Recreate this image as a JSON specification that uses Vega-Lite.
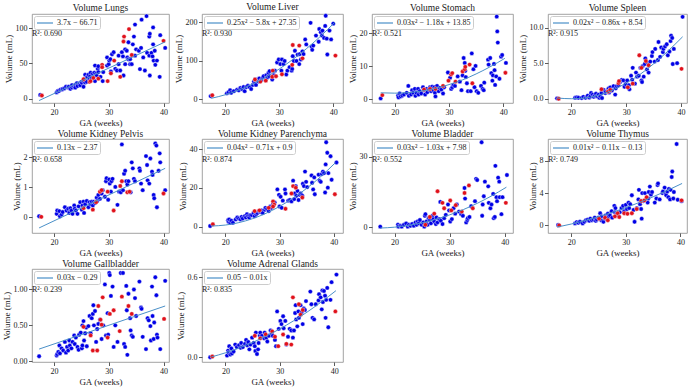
{
"$schema":"https://vega.github.io/schema/vega-lite/v6.json",
"padding":{"left":1,"right":1,"top":1,"bottom":0},
"background":"white",
"datasets":{
"lungs":[{"x":17.5,"y":5.5,"c":"b"},{"x":20.5,"y":9,"c":"b"},{"x":20.7,"y":11,"c":"b"},{"x":20.9,"y":11,"c":"b"},{"x":21.2,"y":13,"c":"b"},{"x":21.5,"y":13,"c":"b"},{"x":21.6,"y":14,"c":"b"},{"x":21.9,"y":14.7,"c":"b"},{"x":22.2,"y":17,"c":"b"},{"x":22.6,"y":16,"c":"b"},{"x":22.7,"y":17,"c":"b"},{"x":23.0,"y":14,"c":"b"},{"x":23.3,"y":16,"c":"b"},{"x":23.3,"y":19.4,"c":"b"},{"x":23.7,"y":17,"c":"b"},{"x":23.9,"y":20,"c":"b"},{"x":23.9,"y":15.7,"c":"b"},{"x":24.2,"y":22,"c":"b"},{"x":24.3,"y":18,"c":"b"},{"x":24.7,"y":21.7,"c":"b"},{"x":24.8,"y":19,"c":"b"},{"x":25.0,"y":24,"c":"b"},{"x":25.1,"y":22.6,"c":"b"},{"x":25.4,"y":25,"c":"b"},{"x":25.4,"y":17,"c":"b"},{"x":25.6,"y":27.6,"c":"b"},{"x":25.7,"y":34,"c":"b"},{"x":25.7,"y":23,"c":"b"},{"x":25.9,"y":29.5,"c":"b"},{"x":26.0,"y":24,"c":"b"},{"x":26.1,"y":31,"c":"b"},{"x":26.3,"y":34,"c":"b"},{"x":26.5,"y":27.6,"c":"b"},{"x":26.6,"y":32,"c":"b"},{"x":26.7,"y":37,"c":"b"},{"x":26.9,"y":29.5,"c":"b"},{"x":27.1,"y":35.5,"c":"b"},{"x":27.4,"y":37,"c":"b"},{"x":27.5,"y":25,"c":"b"},{"x":27.5,"y":47,"c":"b"},{"x":27.7,"y":35.5,"c":"b"},{"x":27.8,"y":33,"c":"b"},{"x":28.0,"y":42.4,"c":"b"},{"x":28.1,"y":46,"c":"b"},{"x":28.1,"y":37.8,"c":"b"},{"x":28.5,"y":31,"c":"b"},{"x":28.9,"y":25,"c":"b"},{"x":29.0,"y":37.8,"c":"b"},{"x":29.7,"y":58.5,"c":"b"},{"x":29.7,"y":47,"c":"b"},{"x":30.0,"y":49,"c":"b"},{"x":30.1,"y":54,"c":"b"},{"x":30.3,"y":56,"c":"b"},{"x":30.4,"y":38.7,"c":"b"},{"x":30.6,"y":63,"c":"b"},{"x":30.9,"y":66,"c":"b"},{"x":31.2,"y":42.4,"c":"b"},{"x":31.5,"y":40,"c":"b"},{"x":31.8,"y":61,"c":"b"},{"x":31.8,"y":49,"c":"b"},{"x":32.1,"y":40,"c":"b"},{"x":32.4,"y":66,"c":"b"},{"x":32.6,"y":60,"c":"b"},{"x":32.7,"y":33,"c":"b"},{"x":33.0,"y":49,"c":"b"},{"x":33.0,"y":70,"c":"b"},{"x":33.3,"y":68,"c":"b"},{"x":33.4,"y":58.5,"c":"b"},{"x":33.6,"y":80,"c":"b"},{"x":33.6,"y":56,"c":"b"},{"x":33.9,"y":56,"c":"b"},{"x":33.9,"y":49,"c":"b"},{"x":34.2,"y":49,"c":"b"},{"x":34.4,"y":77,"c":"b"},{"x":34.6,"y":88,"c":"b"},{"x":34.8,"y":105,"c":"b"},{"x":34.8,"y":61,"c":"b"},{"x":35.0,"y":70,"c":"b"},{"x":35.5,"y":68,"c":"b"},{"x":35.7,"y":42,"c":"b"},{"x":35.9,"y":72,"c":"b"},{"x":36.0,"y":112,"c":"b"},{"x":36.3,"y":58.5,"c":"b"},{"x":36.6,"y":40,"c":"b"},{"x":36.9,"y":117,"c":"b"},{"x":37.0,"y":65,"c":"b"},{"x":37.4,"y":88,"c":"b"},{"x":37.4,"y":61,"c":"b"},{"x":37.5,"y":92,"c":"b"},{"x":37.5,"y":33,"c":"b"},{"x":37.8,"y":65,"c":"b"},{"x":38.0,"y":60,"c":"b"},{"x":38.1,"y":101,"c":"b"},{"x":38.1,"y":77,"c":"b"},{"x":38.2,"y":54,"c":"b"},{"x":38.4,"y":68,"c":"b"},{"x":38.5,"y":48,"c":"b"},{"x":38.8,"y":54,"c":"b"},{"x":39.3,"y":31,"c":"b"},{"x":39.4,"y":90,"c":"b"},{"x":40.3,"y":72,"c":"b"},
{"x":17.8,"y":4.6,"c":"r"},{"x":25.4,"y":27.6,"c":"r"},{"x":26.5,"y":24,"c":"r"},{"x":26.7,"y":25,"c":"r"},{"x":27.2,"y":29.5,"c":"r"},{"x":28.1,"y":28.5,"c":"r"},{"x":28.8,"y":48,"c":"r"},{"x":28.8,"y":44.7,"c":"r"},{"x":29.8,"y":25,"c":"r"},{"x":30.4,"y":36,"c":"r"},{"x":31.0,"y":54,"c":"r"},{"x":32.1,"y":31,"c":"r"},{"x":32.7,"y":81,"c":"r"},{"x":32.8,"y":88,"c":"r"},{"x":33.7,"y":98.6,"c":"r"},{"x":34.2,"y":62,"c":"r"},{"x":40.0,"y":82,"c":"r"}],
"liver":[{"x":17.3,"y":8,"c":"b"},{"x":20.3,"y":15,"c":"b"},{"x":20.6,"y":18,"c":"b"},{"x":20.9,"y":23,"c":"b"},{"x":21.1,"y":16.5,"c":"b"},{"x":21.6,"y":20.7,"c":"b"},{"x":22.2,"y":24.8,"c":"b"},{"x":22.5,"y":23,"c":"b"},{"x":22.8,"y":29,"c":"b"},{"x":23.1,"y":26.4,"c":"b"},{"x":23.4,"y":31.4,"c":"b"},{"x":23.6,"y":20.7,"c":"b"},{"x":23.9,"y":31.4,"c":"b"},{"x":24.2,"y":34.7,"c":"b"},{"x":24.5,"y":31.4,"c":"b"},{"x":24.8,"y":26.4,"c":"b"},{"x":25.1,"y":37,"c":"b"},{"x":25.3,"y":45.5,"c":"b"},{"x":25.5,"y":41,"c":"b"},{"x":25.6,"y":51,"c":"b"},{"x":25.7,"y":37,"c":"b"},{"x":25.9,"y":48,"c":"b"},{"x":26.2,"y":45.5,"c":"b"},{"x":26.3,"y":54,"c":"b"},{"x":26.7,"y":49.6,"c":"b"},{"x":27.0,"y":56,"c":"b"},{"x":27.1,"y":59.5,"c":"b"},{"x":27.5,"y":49.6,"c":"b"},{"x":27.6,"y":62,"c":"b"},{"x":27.8,"y":56,"c":"b"},{"x":28.0,"y":68,"c":"b"},{"x":28.1,"y":59.5,"c":"b"},{"x":28.2,"y":72.7,"c":"b"},{"x":28.7,"y":51,"c":"b"},{"x":29.0,"y":62,"c":"b"},{"x":29.2,"y":74,"c":"b"},{"x":29.6,"y":95,"c":"b"},{"x":29.9,"y":103,"c":"b"},{"x":30.2,"y":91,"c":"b"},{"x":30.4,"y":74,"c":"b"},{"x":30.5,"y":103,"c":"b"},{"x":30.8,"y":91,"c":"b"},{"x":31.0,"y":99,"c":"b"},{"x":31.3,"y":64,"c":"b"},{"x":31.5,"y":74,"c":"b"},{"x":31.9,"y":83,"c":"b"},{"x":32.3,"y":74,"c":"b"},{"x":32.4,"y":78.5,"c":"b"},{"x":32.5,"y":111.6,"c":"b"},{"x":32.7,"y":99,"c":"b"},{"x":32.9,"y":125.6,"c":"b"},{"x":33.2,"y":99,"c":"b"},{"x":33.4,"y":115.7,"c":"b"},{"x":33.7,"y":91,"c":"b"},{"x":33.8,"y":117,"c":"b"},{"x":34.0,"y":103,"c":"b"},{"x":34.3,"y":124,"c":"b"},{"x":34.5,"y":117,"c":"b"},{"x":34.8,"y":155,"c":"b"},{"x":35.0,"y":142,"c":"b"},{"x":35.8,"y":198,"c":"b"},{"x":36.0,"y":136,"c":"b"},{"x":36.1,"y":128,"c":"b"},{"x":36.3,"y":139,"c":"b"},{"x":36.8,"y":165,"c":"b"},{"x":37.3,"y":149,"c":"b"},{"x":37.4,"y":182,"c":"b"},{"x":37.7,"y":173.6,"c":"b"},{"x":37.9,"y":165,"c":"b"},{"x":38.0,"y":178,"c":"b"},{"x":38.3,"y":159,"c":"b"},{"x":38.5,"y":190,"c":"b"},{"x":38.6,"y":216.5,"c":"b"},{"x":38.8,"y":157,"c":"b"},{"x":38.9,"y":116,"c":"b"},{"x":39.3,"y":178,"c":"b"},{"x":39.6,"y":155,"c":"b"},{"x":40.0,"y":196,"c":"b"},
{"x":17.6,"y":10,"c":"r"},{"x":25.5,"y":51,"c":"r"},{"x":26.5,"y":45.5,"c":"r"},{"x":27.5,"y":48,"c":"r"},{"x":28.8,"y":74,"c":"r"},{"x":28.7,"y":58,"c":"r"},{"x":29.4,"y":59.5,"c":"r"},{"x":30.5,"y":64.5,"c":"r"},{"x":32.4,"y":89,"c":"r"},{"x":32.5,"y":140.5,"c":"r"},{"x":33.7,"y":139,"c":"r"},{"x":34.3,"y":106,"c":"r"},{"x":40.4,"y":113,"c":"r"}],
"stomach":[{"x":17.4,"y":0.2,"c":"b"},{"x":20.6,"y":1.0,"c":"b"},{"x":20.7,"y":0.5,"c":"b"},{"x":20.9,"y":1.7,"c":"b"},{"x":21.1,"y":0.8,"c":"b"},{"x":21.4,"y":1.1,"c":"b"},{"x":21.7,"y":1.4,"c":"b"},{"x":22.2,"y":1.9,"c":"b"},{"x":22.5,"y":4.0,"c":"b"},{"x":22.6,"y":1.0,"c":"b"},{"x":23.0,"y":1.4,"c":"b"},{"x":23.2,"y":2.7,"c":"b"},{"x":23.4,"y":1.9,"c":"b"},{"x":23.7,"y":3.1,"c":"b"},{"x":23.8,"y":1.0,"c":"b"},{"x":24.0,"y":1.9,"c":"b"},{"x":24.3,"y":3.1,"c":"b"},{"x":24.4,"y":1.4,"c":"b"},{"x":24.6,"y":2.4,"c":"b"},{"x":24.9,"y":1.7,"c":"b"},{"x":25.2,"y":3.6,"c":"b"},{"x":25.4,"y":2.7,"c":"b"},{"x":25.6,"y":1.4,"c":"b"},{"x":25.9,"y":3.1,"c":"b"},{"x":26.0,"y":2.1,"c":"b"},{"x":26.3,"y":2.9,"c":"b"},{"x":26.5,"y":3.6,"c":"b"},{"x":26.7,"y":2.4,"c":"b"},{"x":26.9,"y":3.8,"c":"b"},{"x":27.1,"y":2.7,"c":"b"},{"x":27.3,"y":3.6,"c":"b"},{"x":27.4,"y":1.9,"c":"b"},{"x":27.5,"y":0.8,"c":"b"},{"x":27.8,"y":4.0,"c":"b"},{"x":27.9,"y":2.9,"c":"b"},{"x":28.1,"y":2.4,"c":"b"},{"x":28.3,"y":3.4,"c":"b"},{"x":28.6,"y":2.9,"c":"b"},{"x":28.9,"y":1.7,"c":"b"},{"x":29.1,"y":3.6,"c":"b"},{"x":29.8,"y":8.1,"c":"b"},{"x":30.2,"y":6.5,"c":"b"},{"x":30.4,"y":3.1,"c":"b"},{"x":30.6,"y":3.6,"c":"b"},{"x":30.8,"y":4.3,"c":"b"},{"x":31.1,"y":4.0,"c":"b"},{"x":31.6,"y":6.9,"c":"b"},{"x":32.0,"y":5.3,"c":"b"},{"x":32.3,"y":2.7,"c":"b"},{"x":32.5,"y":7.2,"c":"b"},{"x":32.7,"y":12.5,"c":"b"},{"x":32.9,"y":11.0,"c":"b"},{"x":33.0,"y":8.6,"c":"b"},{"x":33.1,"y":6.7,"c":"b"},{"x":33.3,"y":4.8,"c":"b"},{"x":33.5,"y":2.4,"c":"b"},{"x":34.0,"y":2.4,"c":"b"},{"x":34.2,"y":13.9,"c":"b"},{"x":34.5,"y":9.1,"c":"b"},{"x":34.7,"y":3.6,"c":"b"},{"x":34.9,"y":10.1,"c":"b"},{"x":35.1,"y":2.4,"c":"b"},{"x":35.4,"y":1.9,"c":"b"},{"x":35.9,"y":4.0,"c":"b"},{"x":36.2,"y":3.1,"c":"b"},{"x":36.4,"y":2.7,"c":"b"},{"x":36.5,"y":5.0,"c":"b"},{"x":37.2,"y":12.0,"c":"b"},{"x":37.3,"y":10.5,"c":"b"},{"x":37.6,"y":12.5,"c":"b"},{"x":37.8,"y":7.9,"c":"b"},{"x":38.0,"y":5.6,"c":"b"},{"x":38.1,"y":7.2,"c":"b"},{"x":38.3,"y":10.7,"c":"b"},{"x":38.4,"y":8.8,"c":"b"},{"x":38.5,"y":4.3,"c":"b"},{"x":38.7,"y":6.9,"c":"b"},{"x":38.8,"y":25.1,"c":"b"},{"x":38.9,"y":20.6,"c":"b"},{"x":39.0,"y":17.2,"c":"b"},{"x":39.3,"y":6.2,"c":"b"},{"x":39.6,"y":12.9,"c":"b"},{"x":39.8,"y":13.4,"c":"b"},{"x":40.5,"y":11.0,"c":"b"},
{"x":17.7,"y":1.2,"c":"r"},{"x":25.4,"y":2.9,"c":"r"},{"x":26.5,"y":3.1,"c":"r"},{"x":27.5,"y":3.1,"c":"r"},{"x":28.9,"y":4.0,"c":"r"},{"x":29.9,"y":5.6,"c":"r"},{"x":30.4,"y":7.5,"c":"r"},{"x":30.6,"y":7.9,"c":"r"},{"x":31.2,"y":5.3,"c":"r"},{"x":32.5,"y":8.4,"c":"r"},{"x":32.9,"y":9.1,"c":"r"},{"x":33.0,"y":9.8,"c":"r"},{"x":33.8,"y":10.5,"c":"r"},{"x":34.3,"y":4.8,"c":"r"},{"x":40.4,"y":8.0,"c":"r"}],
"spleen":[{"x":17.4,"y":0.05,"c":"b"},{"x":20.7,"y":0.13,"c":"b"},{"x":21.0,"y":0.2,"c":"b"},{"x":21.3,"y":0.13,"c":"b"},{"x":21.9,"y":0.1,"c":"b"},{"x":22.2,"y":0.27,"c":"b"},{"x":22.6,"y":0.13,"c":"b"},{"x":22.9,"y":0.27,"c":"b"},{"x":23.0,"y":0.44,"c":"b"},{"x":23.3,"y":0.18,"c":"b"},{"x":23.5,"y":0.35,"c":"b"},{"x":23.6,"y":0.8,"c":"b"},{"x":23.9,"y":0.58,"c":"b"},{"x":24.1,"y":0.27,"c":"b"},{"x":24.3,"y":0.44,"c":"b"},{"x":24.5,"y":0.7,"c":"b"},{"x":24.7,"y":0.35,"c":"b"},{"x":25.0,"y":0.58,"c":"b"},{"x":25.1,"y":0.13,"c":"b"},{"x":25.3,"y":0.35,"c":"b"},{"x":25.5,"y":0.8,"c":"b"},{"x":25.6,"y":0.1,"c":"b"},{"x":25.9,"y":1.24,"c":"b"},{"x":26.2,"y":0.8,"c":"b"},{"x":26.3,"y":1.0,"c":"b"},{"x":26.7,"y":1.15,"c":"b"},{"x":26.8,"y":1.46,"c":"b"},{"x":26.9,"y":0.88,"c":"b"},{"x":27.1,"y":1.6,"c":"b"},{"x":27.4,"y":1.15,"c":"b"},{"x":27.7,"y":1.77,"c":"b"},{"x":28.0,"y":0.58,"c":"b"},{"x":28.1,"y":1.46,"c":"b"},{"x":28.3,"y":1.77,"c":"b"},{"x":28.6,"y":1.9,"c":"b"},{"x":28.9,"y":2.35,"c":"b"},{"x":29.2,"y":2.65,"c":"b"},{"x":29.5,"y":2.57,"c":"b"},{"x":29.7,"y":1.68,"c":"b"},{"x":29.9,"y":2.04,"c":"b"},{"x":30.2,"y":2.57,"c":"b"},{"x":30.5,"y":1.9,"c":"b"},{"x":30.6,"y":1.33,"c":"b"},{"x":30.9,"y":3.23,"c":"b"},{"x":31.1,"y":2.65,"c":"b"},{"x":31.2,"y":4.34,"c":"b"},{"x":31.6,"y":2.12,"c":"b"},{"x":31.8,"y":3.67,"c":"b"},{"x":32.0,"y":3.1,"c":"b"},{"x":32.3,"y":3.23,"c":"b"},{"x":32.6,"y":4.34,"c":"b"},{"x":32.8,"y":2.57,"c":"b"},{"x":32.9,"y":2.35,"c":"b"},{"x":33.0,"y":4.56,"c":"b"},{"x":33.2,"y":3.1,"c":"b"},{"x":33.4,"y":4.87,"c":"b"},{"x":33.5,"y":5.66,"c":"b"},{"x":33.8,"y":4.12,"c":"b"},{"x":34.0,"y":5.0,"c":"b"},{"x":34.1,"y":3.67,"c":"b"},{"x":34.4,"y":5.22,"c":"b"},{"x":34.7,"y":6.0,"c":"b"},{"x":34.8,"y":6.55,"c":"b"},{"x":35.2,"y":5.22,"c":"b"},{"x":35.3,"y":7.0,"c":"b"},{"x":35.8,"y":5.44,"c":"b"},{"x":35.9,"y":7.97,"c":"b"},{"x":36.2,"y":5.88,"c":"b"},{"x":36.4,"y":7.2,"c":"b"},{"x":36.7,"y":6.55,"c":"b"},{"x":36.8,"y":7.0,"c":"b"},{"x":37.1,"y":7.35,"c":"b"},{"x":37.4,"y":7.65,"c":"b"},{"x":37.6,"y":6.1,"c":"b"},{"x":37.9,"y":6.64,"c":"b"},{"x":38.1,"y":8.1,"c":"b"},{"x":38.2,"y":8.85,"c":"b"},{"x":38.4,"y":8.54,"c":"b"},{"x":38.5,"y":4.87,"c":"b"},{"x":38.7,"y":7.0,"c":"b"},{"x":39.3,"y":5.0,"c":"b"},{"x":40.3,"y":11.5,"c":"b"},
{"x":17.7,"y":0.0,"c":"r"},{"x":25.5,"y":1.33,"c":"r"},{"x":26.7,"y":1.0,"c":"r"},{"x":27.1,"y":1.24,"c":"r"},{"x":28.6,"y":2.2,"c":"r"},{"x":28.7,"y":2.48,"c":"r"},{"x":30.3,"y":1.6,"c":"r"},{"x":31.2,"y":2.12,"c":"r"},{"x":32.4,"y":6.1,"c":"r"},{"x":32.8,"y":4.34,"c":"r"},{"x":33.6,"y":5.3,"c":"r"},{"x":34.1,"y":4.7,"c":"r"},{"x":40.1,"y":4.2,"c":"r"}],
"pelvis":[{"x":17.3,"y":0.03,"c":"b"},{"x":20.5,"y":0.11,"c":"b"},{"x":20.6,"y":0.22,"c":"b"},{"x":21.0,"y":0.2,"c":"b"},{"x":21.1,"y":0.03,"c":"b"},{"x":21.4,"y":0.09,"c":"b"},{"x":21.6,"y":0.17,"c":"b"},{"x":22.0,"y":0.33,"c":"b"},{"x":22.3,"y":0.22,"c":"b"},{"x":22.6,"y":0.28,"c":"b"},{"x":22.8,"y":0.14,"c":"b"},{"x":23.0,"y":0.3,"c":"b"},{"x":23.2,"y":0.22,"c":"b"},{"x":23.4,"y":0.11,"c":"b"},{"x":23.7,"y":0.39,"c":"b"},{"x":23.8,"y":0.28,"c":"b"},{"x":24.0,"y":0.22,"c":"b"},{"x":24.3,"y":0.11,"c":"b"},{"x":24.5,"y":0.36,"c":"b"},{"x":24.8,"y":0.5,"c":"b"},{"x":25.1,"y":0.25,"c":"b"},{"x":25.2,"y":0.39,"c":"b"},{"x":25.4,"y":0.52,"c":"b"},{"x":25.5,"y":0.14,"c":"b"},{"x":25.7,"y":0.43,"c":"b"},{"x":26.0,"y":0.54,"c":"b"},{"x":26.3,"y":0.33,"c":"b"},{"x":26.5,"y":0.5,"c":"b"},{"x":26.7,"y":0.43,"c":"b"},{"x":26.9,"y":0.52,"c":"b"},{"x":27.1,"y":0.39,"c":"b"},{"x":27.3,"y":0.52,"c":"b"},{"x":27.5,"y":0.47,"c":"b"},{"x":27.8,"y":0.65,"c":"b"},{"x":27.9,"y":0.54,"c":"b"},{"x":28.1,"y":0.74,"c":"b"},{"x":28.4,"y":0.61,"c":"b"},{"x":28.7,"y":0.79,"c":"b"},{"x":28.9,"y":0.9,"c":"b"},{"x":29.3,"y":0.68,"c":"b"},{"x":29.5,"y":1.2,"c":"b"},{"x":29.6,"y":1.3,"c":"b"},{"x":29.9,"y":0.58,"c":"b"},{"x":30.1,"y":1.26,"c":"b"},{"x":30.2,"y":1.12,"c":"b"},{"x":30.4,"y":0.85,"c":"b"},{"x":30.5,"y":1.2,"c":"b"},{"x":30.7,"y":1.28,"c":"b"},{"x":31.2,"y":1.01,"c":"b"},{"x":31.6,"y":0.41,"c":"b"},{"x":31.9,"y":0.85,"c":"b"},{"x":32.2,"y":0.83,"c":"b"},{"x":32.4,"y":2.43,"c":"b"},{"x":32.6,"y":0.9,"c":"b"},{"x":32.8,"y":1.45,"c":"b"},{"x":33.0,"y":1.55,"c":"b"},{"x":33.2,"y":1.2,"c":"b"},{"x":33.4,"y":1.09,"c":"b"},{"x":33.6,"y":1.2,"c":"b"},{"x":34.0,"y":0.83,"c":"b"},{"x":34.2,"y":1.83,"c":"b"},{"x":34.4,"y":1.63,"c":"b"},{"x":34.6,"y":1.28,"c":"b"},{"x":34.8,"y":1.2,"c":"b"},{"x":35.6,"y":1.63,"c":"b"},{"x":35.7,"y":1.55,"c":"b"},{"x":35.9,"y":1.12,"c":"b"},{"x":36.2,"y":0.9,"c":"b"},{"x":36.8,"y":2.04,"c":"b"},{"x":37.0,"y":1.74,"c":"b"},{"x":37.1,"y":1.23,"c":"b"},{"x":37.4,"y":1.12,"c":"b"},{"x":37.6,"y":1.96,"c":"b"},{"x":37.9,"y":1.52,"c":"b"},{"x":38.0,"y":1.41,"c":"b"},{"x":38.2,"y":0.74,"c":"b"},{"x":38.3,"y":0.63,"c":"b"},{"x":38.5,"y":2.46,"c":"b"},{"x":38.7,"y":2.39,"c":"b"},{"x":38.8,"y":0.33,"c":"b"},{"x":39.1,"y":1.55,"c":"b"},{"x":39.3,"y":2.13,"c":"b"},{"x":39.4,"y":1.83,"c":"b"},{"x":40.3,"y":0.9,"c":"b"},
{"x":17.7,"y":0.01,"c":"r"},{"x":25.4,"y":0.3,"c":"r"},{"x":27.1,"y":0.25,"c":"r"},{"x":27.7,"y":0.5,"c":"r"},{"x":28.4,"y":0.85,"c":"r"},{"x":28.7,"y":0.9,"c":"r"},{"x":29.8,"y":0.85,"c":"r"},{"x":30.9,"y":0.22,"c":"r"},{"x":32.1,"y":1.04,"c":"r"},{"x":32.4,"y":1.2,"c":"r"},{"x":33.4,"y":0.83,"c":"r"},{"x":33.8,"y":0.85,"c":"r"},{"x":40.0,"y":0.79,"c":"r"}],
"parench":[{"x":17.2,"y":0.3,"c":"b"},{"x":20.5,"y":3.3,"c":"b"},{"x":20.6,"y":2.5,"c":"b"},{"x":20.7,"y":3.7,"c":"b"},{"x":20.9,"y":2.0,"c":"b"},{"x":21.1,"y":3.0,"c":"b"},{"x":21.4,"y":2.0,"c":"b"},{"x":21.9,"y":3.7,"c":"b"},{"x":22.2,"y":4.7,"c":"b"},{"x":22.5,"y":4.2,"c":"b"},{"x":22.8,"y":3.7,"c":"b"},{"x":23.0,"y":5.0,"c":"b"},{"x":23.2,"y":4.2,"c":"b"},{"x":23.6,"y":5.4,"c":"b"},{"x":23.8,"y":4.7,"c":"b"},{"x":24.0,"y":6.4,"c":"b"},{"x":24.2,"y":5.4,"c":"b"},{"x":24.4,"y":4.7,"c":"b"},{"x":24.6,"y":5.9,"c":"b"},{"x":24.9,"y":5.9,"c":"b"},{"x":25.2,"y":7.0,"c":"b"},{"x":25.4,"y":5.4,"c":"b"},{"x":25.7,"y":6.4,"c":"b"},{"x":25.9,"y":7.0,"c":"b"},{"x":26.2,"y":8.0,"c":"b"},{"x":26.5,"y":7.5,"c":"b"},{"x":26.7,"y":8.4,"c":"b"},{"x":26.9,"y":7.0,"c":"b"},{"x":27.3,"y":8.7,"c":"b"},{"x":27.4,"y":9.7,"c":"b"},{"x":27.7,"y":9.2,"c":"b"},{"x":28.0,"y":8.0,"c":"b"},{"x":28.3,"y":10.4,"c":"b"},{"x":28.5,"y":9.7,"c":"b"},{"x":28.8,"y":11.7,"c":"b"},{"x":29.1,"y":12.5,"c":"b"},{"x":29.6,"y":19.2,"c":"b"},{"x":29.9,"y":16.4,"c":"b"},{"x":30.0,"y":10.4,"c":"b"},{"x":30.2,"y":15.4,"c":"b"},{"x":30.4,"y":9.7,"c":"b"},{"x":30.6,"y":13.4,"c":"b"},{"x":31.0,"y":19.2,"c":"b"},{"x":31.1,"y":17.1,"c":"b"},{"x":31.6,"y":13.4,"c":"b"},{"x":31.9,"y":13.7,"c":"b"},{"x":32.2,"y":13.0,"c":"b"},{"x":32.5,"y":23.7,"c":"b"},{"x":32.7,"y":14.2,"c":"b"},{"x":32.8,"y":17.1,"c":"b"},{"x":33.0,"y":20.9,"c":"b"},{"x":33.1,"y":15.9,"c":"b"},{"x":33.3,"y":18.4,"c":"b"},{"x":33.5,"y":13.7,"c":"b"},{"x":33.7,"y":16.4,"c":"b"},{"x":33.9,"y":17.1,"c":"b"},{"x":34.2,"y":15.9,"c":"b"},{"x":34.3,"y":22.1,"c":"b"},{"x":34.5,"y":20.9,"c":"b"},{"x":34.7,"y":28.4,"c":"b"},{"x":34.9,"y":23.1,"c":"b"},{"x":35.1,"y":20.4,"c":"b"},{"x":35.9,"y":26.4,"c":"b"},{"x":36.0,"y":22.6,"c":"b"},{"x":36.2,"y":19.2,"c":"b"},{"x":36.4,"y":25.4,"c":"b"},{"x":36.5,"y":16.7,"c":"b"},{"x":37.2,"y":26.8,"c":"b"},{"x":37.4,"y":23.7,"c":"b"},{"x":37.6,"y":23.1,"c":"b"},{"x":37.8,"y":27.1,"c":"b"},{"x":38.0,"y":28.4,"c":"b"},{"x":38.2,"y":27.6,"c":"b"},{"x":38.4,"y":17.6,"c":"b"},{"x":38.5,"y":32.1,"c":"b"},{"x":38.6,"y":43.5,"c":"b"},{"x":38.8,"y":38.1,"c":"b"},{"x":38.9,"y":20.1,"c":"b"},{"x":39.0,"y":27.6,"c":"b"},{"x":39.4,"y":36.3,"c":"b"},{"x":39.6,"y":24.2,"c":"b"},{"x":40.5,"y":33.1,"c":"b"},
{"x":17.7,"y":1.2,"c":"r"},{"x":25.4,"y":8.0,"c":"r"},{"x":26.3,"y":8.4,"c":"r"},{"x":28.0,"y":9.7,"c":"r"},{"x":28.8,"y":13.0,"c":"r"},{"x":29.0,"y":11.4,"c":"r"},{"x":28.8,"y":10.4,"c":"r"},{"x":31.1,"y":9.2,"c":"r"},{"x":32.2,"y":17.1,"c":"r"},{"x":32.5,"y":20.9,"c":"r"},{"x":33.0,"y":20.1,"c":"r"},{"x":34.2,"y":15.0,"c":"r"},{"x":40.2,"y":16.7,"c":"r"}],
"bladder":[{"x":17.4,"y":0.3,"c":"b"},{"x":20.6,"y":1.1,"c":"b"},{"x":20.7,"y":0.3,"c":"b"},{"x":21.1,"y":0.7,"c":"b"},{"x":21.3,"y":0.3,"c":"b"},{"x":21.7,"y":1.1,"c":"b"},{"x":22.1,"y":1.7,"c":"b"},{"x":22.4,"y":0.3,"c":"b"},{"x":22.6,"y":1.1,"c":"b"},{"x":22.9,"y":0.7,"c":"b"},{"x":23.2,"y":1.4,"c":"b"},{"x":23.5,"y":0.7,"c":"b"},{"x":23.8,"y":2.1,"c":"b"},{"x":24.0,"y":1.1,"c":"b"},{"x":24.2,"y":2.5,"c":"b"},{"x":24.4,"y":1.7,"c":"b"},{"x":24.6,"y":3.1,"c":"b"},{"x":24.9,"y":1.1,"c":"b"},{"x":25.2,"y":2.1,"c":"b"},{"x":25.4,"y":0.3,"c":"b"},{"x":25.5,"y":4.9,"c":"b"},{"x":25.6,"y":5.6,"c":"b"},{"x":25.8,"y":2.5,"c":"b"},{"x":26.0,"y":1.1,"c":"b"},{"x":26.2,"y":3.9,"c":"b"},{"x":26.4,"y":3.1,"c":"b"},{"x":26.6,"y":1.7,"c":"b"},{"x":26.9,"y":4.9,"c":"b"},{"x":27.0,"y":3.5,"c":"b"},{"x":27.2,"y":2.5,"c":"b"},{"x":27.5,"y":1.4,"c":"b"},{"x":27.6,"y":4.2,"c":"b"},{"x":27.8,"y":2.1,"c":"b"},{"x":28.1,"y":3.5,"c":"b"},{"x":28.3,"y":10.8,"c":"b"},{"x":28.4,"y":2.8,"c":"b"},{"x":28.7,"y":1.4,"c":"b"},{"x":29.0,"y":3.9,"c":"b"},{"x":29.3,"y":5.3,"c":"b"},{"x":29.7,"y":9.7,"c":"b"},{"x":29.9,"y":7.2,"c":"b"},{"x":30.1,"y":2.5,"c":"b"},{"x":30.4,"y":3.5,"c":"b"},{"x":30.7,"y":8.1,"c":"b"},{"x":31.0,"y":5.8,"c":"b"},{"x":31.3,"y":9.7,"c":"b"},{"x":31.7,"y":6.7,"c":"b"},{"x":32.1,"y":5.6,"c":"b"},{"x":32.4,"y":4.9,"c":"b"},{"x":32.7,"y":16.7,"c":"b"},{"x":32.8,"y":12.2,"c":"b"},{"x":33.0,"y":2.1,"c":"b"},{"x":33.2,"y":3.1,"c":"b"},{"x":33.3,"y":3.9,"c":"b"},{"x":33.6,"y":4.4,"c":"b"},{"x":33.9,"y":9.0,"c":"b"},{"x":34.6,"y":11.1,"c":"b"},{"x":34.8,"y":20.6,"c":"b"},{"x":35.0,"y":20.1,"c":"b"},{"x":35.8,"y":36.1,"c":"b"},{"x":35.9,"y":4.9,"c":"b"},{"x":36.0,"y":9.7,"c":"b"},{"x":36.2,"y":13.2,"c":"b"},{"x":36.4,"y":19.4,"c":"b"},{"x":37.0,"y":17.4,"c":"b"},{"x":37.1,"y":10.4,"c":"b"},{"x":37.4,"y":8.1,"c":"b"},{"x":37.6,"y":9.7,"c":"b"},{"x":37.9,"y":14.2,"c":"b"},{"x":38.0,"y":3.9,"c":"b"},{"x":38.2,"y":4.4,"c":"b"},{"x":38.3,"y":26.1,"c":"b"},{"x":38.5,"y":12.8,"c":"b"},{"x":38.6,"y":11.1,"c":"b"},{"x":38.8,"y":21.1,"c":"b"},{"x":39.0,"y":19.4,"c":"b"},{"x":39.1,"y":12.8,"c":"b"},{"x":39.4,"y":5.6,"c":"b"},{"x":39.6,"y":12.8,"c":"b"},{"x":40.4,"y":22.2,"c":"b"},
{"x":25.6,"y":1.1,"c":"r"},{"x":26.4,"y":4.4,"c":"r"},{"x":27.2,"y":5.8,"c":"r"},{"x":27.8,"y":15.3,"c":"r"},{"x":28.7,"y":10.4,"c":"r"},{"x":29.0,"y":8.1,"c":"r"},{"x":30.1,"y":11.4,"c":"r"},{"x":30.3,"y":7.2,"c":"r"},{"x":31.1,"y":9.4,"c":"r"},{"x":32.2,"y":6.7,"c":"r"},{"x":32.7,"y":14.6,"c":"r"},{"x":33.5,"y":17.8,"c":"r"},{"x":34.2,"y":8.1,"c":"r"},{"x":40.2,"y":10.4,"c":"r"}],
"thymus":[{"x":17.6,"y":0.04,"c":"b"},{"x":20.7,"y":0.24,"c":"b"},{"x":21.0,"y":0.4,"c":"b"},{"x":21.3,"y":0.32,"c":"b"},{"x":21.6,"y":0.44,"c":"b"},{"x":22.1,"y":0.24,"c":"b"},{"x":22.4,"y":0.44,"c":"b"},{"x":22.7,"y":0.63,"c":"b"},{"x":23.0,"y":0.71,"c":"b"},{"x":23.3,"y":0.56,"c":"b"},{"x":23.5,"y":0.83,"c":"b"},{"x":23.8,"y":0.63,"c":"b"},{"x":24.1,"y":0.71,"c":"b"},{"x":24.3,"y":0.95,"c":"b"},{"x":24.5,"y":0.56,"c":"b"},{"x":24.7,"y":0.71,"c":"b"},{"x":25.0,"y":0.95,"c":"b"},{"x":25.3,"y":1.5,"c":"b"},{"x":25.5,"y":0.63,"c":"b"},{"x":25.6,"y":1.11,"c":"b"},{"x":25.9,"y":0.44,"c":"b"},{"x":26.2,"y":0.83,"c":"b"},{"x":26.3,"y":1.23,"c":"b"},{"x":26.7,"y":1.43,"c":"b"},{"x":26.8,"y":1.03,"c":"b"},{"x":27.1,"y":1.23,"c":"b"},{"x":27.4,"y":1.75,"c":"b"},{"x":27.5,"y":0.95,"c":"b"},{"x":27.9,"y":2.42,"c":"b"},{"x":28.0,"y":1.63,"c":"b"},{"x":28.1,"y":2.14,"c":"b"},{"x":28.3,"y":1.43,"c":"b"},{"x":28.6,"y":1.23,"c":"b"},{"x":28.9,"y":1.63,"c":"b"},{"x":29.2,"y":2.14,"c":"b"},{"x":29.5,"y":2.42,"c":"b"},{"x":29.7,"y":1.75,"c":"b"},{"x":30.0,"y":2.54,"c":"b"},{"x":30.2,"y":2.02,"c":"b"},{"x":30.5,"y":2.82,"c":"b"},{"x":30.6,"y":2.14,"c":"b"},{"x":30.8,"y":2.62,"c":"b"},{"x":31.1,"y":3.73,"c":"b"},{"x":31.4,"y":1.9,"c":"b"},{"x":31.6,"y":0.44,"c":"b"},{"x":32.0,"y":2.14,"c":"b"},{"x":32.3,"y":3.21,"c":"b"},{"x":32.4,"y":4.4,"c":"b"},{"x":32.6,"y":2.62,"c":"b"},{"x":32.8,"y":2.02,"c":"b"},{"x":32.9,"y":0.83,"c":"b"},{"x":33.0,"y":4.0,"c":"b"},{"x":33.2,"y":3.02,"c":"b"},{"x":33.5,"y":4.0,"c":"b"},{"x":34.0,"y":2.82,"c":"b"},{"x":34.1,"y":3.33,"c":"b"},{"x":34.2,"y":4.13,"c":"b"},{"x":34.4,"y":4.8,"c":"b"},{"x":34.6,"y":3.81,"c":"b"},{"x":34.8,"y":4.13,"c":"b"},{"x":35.3,"y":2.82,"c":"b"},{"x":35.6,"y":3.33,"c":"b"},{"x":35.8,"y":5.0,"c":"b"},{"x":35.9,"y":5.2,"c":"b"},{"x":36.2,"y":3.21,"c":"b"},{"x":36.7,"y":4.0,"c":"b"},{"x":36.8,"y":4.2,"c":"b"},{"x":37.1,"y":4.68,"c":"b"},{"x":37.3,"y":3.89,"c":"b"},{"x":37.4,"y":3.73,"c":"b"},{"x":37.6,"y":4.2,"c":"b"},{"x":37.8,"y":3.49,"c":"b"},{"x":37.9,"y":4.52,"c":"b"},{"x":38.1,"y":3.21,"c":"b"},{"x":38.2,"y":4.4,"c":"b"},{"x":38.4,"y":5.99,"c":"b"},{"x":38.5,"y":6.67,"c":"b"},{"x":38.7,"y":3.33,"c":"b"},{"x":38.8,"y":4.13,"c":"b"},{"x":39.3,"y":10.08,"c":"b"},{"x":39.5,"y":3.17,"c":"b"},{"x":40.2,"y":3.0,"c":"b"},
{"x":17.8,"y":0.0,"c":"r"},{"x":25.1,"y":0.83,"c":"r"},{"x":26.2,"y":0.95,"c":"r"},{"x":26.7,"y":0.63,"c":"r"},{"x":28.0,"y":1.11,"c":"r"},{"x":28.5,"y":1.5,"c":"r"},{"x":28.8,"y":1.03,"c":"r"},{"x":29.7,"y":1.5,"c":"r"},{"x":30.3,"y":1.43,"c":"r"},{"x":31.1,"y":1.5,"c":"r"},{"x":32.0,"y":2.02,"c":"r"},{"x":32.8,"y":3.02,"c":"r"},{"x":33.4,"y":3.1,"c":"r"},{"x":33.8,"y":3.49,"c":"r"},{"x":40.2,"y":3.1,"c":"r"}],
"gall":[{"x":17.3,"y":0.07,"c":"b"},{"x":20.5,"y":0.08,"c":"b"},{"x":20.6,"y":0.1,"c":"b"},{"x":20.8,"y":0.13,"c":"b"},{"x":21.0,"y":0.22,"c":"b"},{"x":21.1,"y":0.11,"c":"b"},{"x":21.4,"y":0.18,"c":"b"},{"x":21.7,"y":0.15,"c":"b"},{"x":22.0,"y":0.27,"c":"b"},{"x":22.2,"y":0.12,"c":"b"},{"x":22.4,"y":0.2,"c":"b"},{"x":22.6,"y":0.15,"c":"b"},{"x":22.8,"y":0.29,"c":"b"},{"x":22.9,"y":0.22,"c":"b"},{"x":23.2,"y":0.18,"c":"b"},{"x":23.4,"y":0.27,"c":"b"},{"x":23.7,"y":0.36,"c":"b"},{"x":23.8,"y":0.24,"c":"b"},{"x":24.0,"y":0.33,"c":"b"},{"x":24.3,"y":0.2,"c":"b"},{"x":24.5,"y":0.16,"c":"b"},{"x":24.6,"y":0.37,"c":"b"},{"x":24.9,"y":0.4,"c":"b"},{"x":25.1,"y":0.18,"c":"b"},{"x":25.2,"y":0.22,"c":"b"},{"x":25.2,"y":0.5,"c":"b"},{"x":25.4,"y":0.56,"c":"b"},{"x":25.5,"y":0.29,"c":"b"},{"x":25.7,"y":0.39,"c":"b"},{"x":25.9,"y":0.47,"c":"b"},{"x":26.0,"y":0.21,"c":"b"},{"x":26.3,"y":0.49,"c":"b"},{"x":26.5,"y":0.63,"c":"b"},{"x":26.7,"y":0.39,"c":"b"},{"x":26.9,"y":0.6,"c":"b"},{"x":27.1,"y":0.66,"c":"b"},{"x":27.2,"y":0.78,"c":"b"},{"x":27.3,"y":0.5,"c":"b"},{"x":27.5,"y":0.7,"c":"b"},{"x":27.7,"y":0.27,"c":"b"},{"x":27.9,"y":0.45,"c":"b"},{"x":28.1,"y":0.52,"c":"b"},{"x":28.4,"y":0.58,"c":"b"},{"x":28.7,"y":0.31,"c":"b"},{"x":29.0,"y":0.5,"c":"b"},{"x":29.3,"y":1.07,"c":"b"},{"x":29.5,"y":0.36,"c":"b"},{"x":29.8,"y":0.67,"c":"b"},{"x":29.9,"y":0.37,"c":"b"},{"x":30.1,"y":1.23,"c":"b"},{"x":30.2,"y":1.2,"c":"b"},{"x":30.4,"y":0.91,"c":"b"},{"x":30.7,"y":1.04,"c":"b"},{"x":30.9,"y":0.2,"c":"b"},{"x":31.2,"y":0.5,"c":"b"},{"x":31.6,"y":0.27,"c":"b"},{"x":32.2,"y":1.23,"c":"b"},{"x":32.6,"y":1.23,"c":"b"},{"x":32.8,"y":0.24,"c":"b"},{"x":33.0,"y":0.2,"c":"b"},{"x":33.2,"y":1.05,"c":"b"},{"x":33.3,"y":0.71,"c":"b"},{"x":33.4,"y":0.09,"c":"b"},{"x":33.6,"y":0.94,"c":"b"},{"x":33.9,"y":0.6,"c":"b"},{"x":34.0,"y":0.43,"c":"b"},{"x":34.2,"y":0.36,"c":"b"},{"x":34.4,"y":0.34,"c":"b"},{"x":34.6,"y":1.0,"c":"b"},{"x":34.8,"y":0.88,"c":"b"},{"x":35.0,"y":0.63,"c":"b"},{"x":35.6,"y":1.11,"c":"b"},{"x":35.9,"y":0.75,"c":"b"},{"x":36.0,"y":0.73,"c":"b"},{"x":36.2,"y":0.34,"c":"b"},{"x":36.8,"y":0.17,"c":"b"},{"x":37.1,"y":0.6,"c":"b"},{"x":37.3,"y":0.57,"c":"b"},{"x":37.6,"y":0.49,"c":"b"},{"x":37.7,"y":0.29,"c":"b"},{"x":37.9,"y":1.04,"c":"b"},{"x":38.0,"y":0.63,"c":"b"},{"x":38.2,"y":0.31,"c":"b"},{"x":38.3,"y":0.54,"c":"b"},{"x":38.5,"y":1.17,"c":"b"},{"x":38.7,"y":0.92,"c":"b"},{"x":38.8,"y":0.37,"c":"b"},{"x":38.9,"y":0.33,"c":"b"},{"x":39.4,"y":0.17,"c":"b"},{"x":40.3,"y":1.12,"c":"b"},
{"x":25.4,"y":0.48,"c":"r"},{"x":26.7,"y":0.36,"c":"r"},{"x":27.1,"y":0.15,"c":"r"},{"x":27.9,"y":0.15,"c":"r"},{"x":28.1,"y":0.77,"c":"r"},{"x":28.5,"y":0.58,"c":"r"},{"x":28.7,"y":0.51,"c":"r"},{"x":28.9,"y":0.89,"c":"r"},{"x":29.8,"y":0.33,"c":"r"},{"x":30.2,"y":0.66,"c":"r"},{"x":30.9,"y":0.71,"c":"r"},{"x":32.0,"y":0.42,"c":"r"},{"x":32.4,"y":0.9,"c":"r"},{"x":33.6,"y":0.77,"c":"r"},{"x":34.2,"y":0.66,"c":"r"},{"x":40.1,"y":0.59,"c":"r"}],
"adrenal":[{"x":17.2,"y":0.0,"c":"b"},{"x":20.3,"y":0.012,"c":"b"},{"x":20.5,"y":0.05,"c":"b"},{"x":20.6,"y":0.036,"c":"b"},{"x":20.7,"y":0.083,"c":"b"},{"x":20.9,"y":0.02,"c":"b"},{"x":21.1,"y":0.066,"c":"b"},{"x":21.2,"y":0.028,"c":"b"},{"x":21.5,"y":0.043,"c":"b"},{"x":21.8,"y":0.095,"c":"b"},{"x":22.1,"y":0.076,"c":"b"},{"x":22.5,"y":0.09,"c":"b"},{"x":22.8,"y":0.071,"c":"b"},{"x":22.9,"y":0.107,"c":"b"},{"x":23.2,"y":0.076,"c":"b"},{"x":23.6,"y":0.1,"c":"b"},{"x":23.8,"y":0.13,"c":"b"},{"x":24.0,"y":0.09,"c":"b"},{"x":24.2,"y":0.114,"c":"b"},{"x":24.4,"y":0.059,"c":"b"},{"x":24.6,"y":0.095,"c":"b"},{"x":24.9,"y":0.147,"c":"b"},{"x":25.2,"y":0.107,"c":"b"},{"x":25.4,"y":0.083,"c":"b"},{"x":25.5,"y":0.047,"c":"b"},{"x":25.6,"y":0.185,"c":"b"},{"x":25.8,"y":0.024,"c":"b"},{"x":26.0,"y":0.059,"c":"b"},{"x":26.1,"y":0.107,"c":"b"},{"x":26.3,"y":0.161,"c":"b"},{"x":26.4,"y":0.185,"c":"b"},{"x":26.7,"y":0.161,"c":"b"},{"x":27.1,"y":0.142,"c":"b"},{"x":27.2,"y":0.185,"c":"b"},{"x":27.5,"y":0.147,"c":"b"},{"x":27.7,"y":0.118,"c":"b"},{"x":28.0,"y":0.161,"c":"b"},{"x":28.3,"y":0.201,"c":"b"},{"x":28.5,"y":0.178,"c":"b"},{"x":28.7,"y":0.161,"c":"b"},{"x":29.1,"y":0.13,"c":"b"},{"x":29.3,"y":0.083,"c":"b"},{"x":29.5,"y":0.344,"c":"b"},{"x":29.8,"y":0.213,"c":"b"},{"x":30.1,"y":0.273,"c":"b"},{"x":30.3,"y":0.249,"c":"b"},{"x":30.6,"y":0.308,"c":"b"},{"x":30.7,"y":0.218,"c":"b"},{"x":31.0,"y":0.273,"c":"b"},{"x":31.2,"y":0.095,"c":"b"},{"x":31.5,"y":0.154,"c":"b"},{"x":31.8,"y":0.213,"c":"b"},{"x":32.1,"y":0.201,"c":"b"},{"x":32.4,"y":0.147,"c":"b"},{"x":32.6,"y":0.201,"c":"b"},{"x":32.8,"y":0.332,"c":"b"},{"x":32.9,"y":0.391,"c":"b"},{"x":33.0,"y":0.284,"c":"b"},{"x":33.2,"y":0.232,"c":"b"},{"x":33.4,"y":0.344,"c":"b"},{"x":33.5,"y":0.296,"c":"b"},{"x":33.8,"y":0.391,"c":"b"},{"x":34.0,"y":0.336,"c":"b"},{"x":34.2,"y":0.249,"c":"b"},{"x":34.4,"y":0.367,"c":"b"},{"x":34.6,"y":0.355,"c":"b"},{"x":34.8,"y":0.422,"c":"b"},{"x":35.6,"y":0.493,"c":"b"},{"x":35.8,"y":0.398,"c":"b"},{"x":36.0,"y":0.296,"c":"b"},{"x":36.3,"y":0.284,"c":"b"},{"x":36.6,"y":0.398,"c":"b"},{"x":37.1,"y":0.427,"c":"b"},{"x":37.2,"y":0.474,"c":"b"},{"x":37.5,"y":0.45,"c":"b"},{"x":37.7,"y":0.36,"c":"b"},{"x":37.8,"y":0.502,"c":"b"},{"x":37.9,"y":0.415,"c":"b"},{"x":38.1,"y":0.498,"c":"b"},{"x":38.3,"y":0.462,"c":"b"},{"x":38.4,"y":0.296,"c":"b"},{"x":38.5,"y":0.431,"c":"b"},{"x":38.7,"y":0.521,"c":"b"},{"x":38.9,"y":0.225,"c":"b"},{"x":39.3,"y":0.431,"c":"b"},{"x":39.5,"y":0.564,"c":"b"},{"x":40.4,"y":0.621,"c":"b"},
{"x":17.6,"y":0.005,"c":"r"},{"x":25.4,"y":0.161,"c":"r"},{"x":26.4,"y":0.142,"c":"r"},{"x":27.4,"y":0.171,"c":"r"},{"x":28.6,"y":0.194,"c":"r"},{"x":29.1,"y":0.154,"c":"r"},{"x":29.7,"y":0.083,"c":"r"},{"x":30.6,"y":0.171,"c":"r"},{"x":31.2,"y":0.1,"c":"r"},{"x":32.1,"y":0.095,"c":"r"},{"x":32.4,"y":0.45,"c":"r"},{"x":33.5,"y":0.398,"c":"r"},{"x":33.8,"y":0.32,"c":"r"},{"x":34.2,"y":0.355,"c":"r"},{"x":40.2,"y":0.344,"c":"r"}],
"fits":[
{"p":"lungs","x":17.3,"y":-2.5,"lab":"3.7x − 66.71"},{"p":"lungs","x":40.3,"y":80.5,"lab":"3.7x − 66.71"},
{"p":"liver","x":17.4,"y":2.12,"lab":"0.25x² − 5.8x + 27.35"},{"p":"liver","x":20,"y":11.35,"lab":"0.25x² − 5.8x + 27.35"},{"p":"liver","x":22.5,"y":23.41,"lab":"0.25x² − 5.8x + 27.35"},{"p":"liver","x":25,"y":38.6,"lab":"0.25x² − 5.8x + 27.35"},{"p":"liver","x":27.5,"y":56.91,"lab":"0.25x² − 5.8x + 27.35"},{"p":"liver","x":30,"y":78.35,"lab":"0.25x² − 5.8x + 27.35"},{"p":"liver","x":32.5,"y":102.91,"lab":"0.25x² − 5.8x + 27.35"},{"p":"liver","x":35,"y":130.6,"lab":"0.25x² − 5.8x + 27.35"},{"p":"liver","x":37.5,"y":161.41,"lab":"0.25x² − 5.8x + 27.35"},{"p":"liver","x":40.3,"y":199.63,"lab":"0.25x² − 5.8x + 27.35"},
{"p":"stomach","x":17.4,"y":1.9,"lab":"0.03x² − 1.18x + 13.85"},{"p":"stomach","x":20,"y":1.8,"lab":"0.03x² − 1.18x + 13.85"},{"p":"stomach","x":22.5,"y":1.95,"lab":"0.03x² − 1.18x + 13.85"},{"p":"stomach","x":25,"y":2.45,"lab":"0.03x² − 1.18x + 13.85"},{"p":"stomach","x":27.5,"y":3.25,"lab":"0.03x² − 1.18x + 13.85"},{"p":"stomach","x":30,"y":4.4,"lab":"0.03x² − 1.18x + 13.85"},{"p":"stomach","x":32.5,"y":5.85,"lab":"0.03x² − 1.18x + 13.85"},{"p":"stomach","x":35,"y":7.65,"lab":"0.03x² − 1.18x + 13.85"},{"p":"stomach","x":37.5,"y":9.75,"lab":"0.03x² − 1.18x + 13.85"},{"p":"stomach","x":40.3,"y":12.4,"lab":"0.03x² − 1.18x + 13.85"},
{"p":"spleen","x":17.4,"y":0.1,"lab":"0.02x² − 0.86x + 8.54"},{"p":"spleen","x":20,"y":0.0,"lab":"0.02x² − 0.86x + 8.54"},{"p":"spleen","x":22.5,"y":0.1,"lab":"0.02x² − 0.86x + 8.54"},{"p":"spleen","x":25,"y":0.5,"lab":"0.02x² − 0.86x + 8.54"},{"p":"spleen","x":27.5,"y":1.2,"lab":"0.02x² − 0.86x + 8.54"},{"p":"spleen","x":30,"y":2.2,"lab":"0.02x² − 0.86x + 8.54"},{"p":"spleen","x":32.5,"y":3.4,"lab":"0.02x² − 0.86x + 8.54"},{"p":"spleen","x":35,"y":4.9,"lab":"0.02x² − 0.86x + 8.54"},{"p":"spleen","x":37.5,"y":6.6,"lab":"0.02x² − 0.86x + 8.54"},{"p":"spleen","x":40.3,"y":8.7,"lab":"0.02x² − 0.86x + 8.54"},
{"p":"pelvis","x":17.3,"y":-0.36,"lab":"0.13x − 2.37"},{"p":"pelvis","x":40.3,"y":1.63,"lab":"0.13x − 2.37"},
{"p":"parench","x":17.4,"y":0.3,"lab":"0.04x² − 0.71x + 0.9"},{"p":"parench","x":20,"y":0.8,"lab":"0.04x² − 0.71x + 0.9"},{"p":"parench","x":22.5,"y":2.06,"lab":"0.04x² − 0.71x + 0.9"},{"p":"parench","x":25,"y":4.07,"lab":"0.04x² − 0.71x + 0.9"},{"p":"parench","x":27.5,"y":6.85,"lab":"0.04x² − 0.71x + 0.9"},{"p":"parench","x":30,"y":10.39,"lab":"0.04x² − 0.71x + 0.9"},{"p":"parench","x":32.5,"y":14.69,"lab":"0.04x² − 0.71x + 0.9"},{"p":"parench","x":35,"y":19.74,"lab":"0.04x² − 0.71x + 0.9"},{"p":"parench","x":37.5,"y":25.56,"lab":"0.04x² − 0.71x + 0.9"},{"p":"parench","x":40.3,"y":32.98,"lab":"0.04x² − 0.71x + 0.9"},
{"p":"bladder","x":17.4,"y":-0.3,"lab":"0.03x² − 1.03x + 7.98"},{"p":"bladder","x":20,"y":0.07,"lab":"0.03x² − 1.03x + 7.98"},{"p":"bladder","x":22.5,"y":0.81,"lab":"0.03x² − 1.03x + 7.98"},{"p":"bladder","x":25,"y":1.92,"lab":"0.03x² − 1.03x + 7.98"},{"p":"bladder","x":27.5,"y":3.42,"lab":"0.03x² − 1.03x + 7.98"},{"p":"bladder","x":30,"y":5.3,"lab":"0.03x² − 1.03x + 7.98"},{"p":"bladder","x":32.5,"y":7.56,"lab":"0.03x² − 1.03x + 7.98"},{"p":"bladder","x":35,"y":10.19,"lab":"0.03x² − 1.03x + 7.98"},{"p":"bladder","x":37.5,"y":13.21,"lab":"0.03x² − 1.03x + 7.98"},{"p":"bladder","x":40.3,"y":17.04,"lab":"0.03x² − 1.03x + 7.98"},
{"p":"thymus","x":17.4,"y":-0.22,"lab":"0.01x² − 0.11x − 0.13"},{"p":"thymus","x":20,"y":0.16,"lab":"0.01x² − 0.11x − 0.13"},{"p":"thymus","x":22.5,"y":0.59,"lab":"0.01x² − 0.11x − 0.13"},{"p":"thymus","x":25,"y":1.07,"lab":"0.01x² − 0.11x − 0.13"},{"p":"thymus","x":27.5,"y":1.6,"lab":"0.01x² − 0.11x − 0.13"},{"p":"thymus","x":30,"y":2.19,"lab":"0.01x² − 0.11x − 0.13"},{"p":"thymus","x":32.5,"y":2.84,"lab":"0.01x² − 0.11x − 0.13"},{"p":"thymus","x":35,"y":3.54,"lab":"0.01x² − 0.11x − 0.13"},{"p":"thymus","x":37.5,"y":4.29,"lab":"0.01x² − 0.11x − 0.13"},{"p":"thymus","x":40.3,"y":5.19,"lab":"0.01x² − 0.11x − 0.13"},
{"p":"gall","x":17.3,"y":0.17,"lab":"0.03x − 0.29"},{"p":"gall","x":40.3,"y":0.77,"lab":"0.03x − 0.29"},
{"p":"adrenal","x":17.4,"y":0.002,"lab":"0.05 − 0.01x"},{"p":"adrenal","x":20,"y":0.033,"lab":"0.05 − 0.01x"},{"p":"adrenal","x":22.5,"y":0.069,"lab":"0.05 − 0.01x"},{"p":"adrenal","x":25,"y":0.111,"lab":"0.05 − 0.01x"},{"p":"adrenal","x":27.5,"y":0.159,"lab":"0.05 − 0.01x"},{"p":"adrenal","x":30,"y":0.213,"lab":"0.05 − 0.01x"},{"p":"adrenal","x":32.5,"y":0.273,"lab":"0.05 − 0.01x"},{"p":"adrenal","x":35,"y":0.339,"lab":"0.05 − 0.01x"},{"p":"adrenal","x":37.5,"y":0.412,"lab":"0.05 − 0.01x"},{"p":"adrenal","x":40.3,"y":0.5,"lab":"0.05 − 0.01x"}],
"r2":[{"p":"lungs","t":"R²: 0.690"},{"p":"liver","t":"R²: 0.930"},{"p":"stomach","t":"R²: 0.521"},{"p":"spleen","t":"R²: 0.915"},{"p":"pelvis","t":"R²: 0.658"},{"p":"parench","t":"R²: 0.874"},{"p":"bladder","t":"R²: 0.552"},{"p":"thymus","t":"R²: 0.749"},{"p":"gall","t":"R²: 0.239"},{"p":"adrenal","t":"R²: 0.835"}]
},
"columns":4,
"spacing":{"row":0,"column":3},
"resolve":{"scale":{"x":"independent","y":"independent","stroke":"independent","fill":"independent"},"legend":{"stroke":"independent"},"axis":{"x":"independent","y":"independent"}},
"concat":[
{"width":137,"height":89,"title":"Volume Lungs","layer":[
 {"data":{"name":"lungs"},"mark":{"type":"circle","size":19,"opacity":1,"stroke":"white","strokeWidth":0.4},"encoding":{"x":{"field":"x","type":"quantitative","scale":{"domain":[16.0,41.0],"nice":false,"zero":false},"axis":{"values":[20,25,30,35,40],"title":"GA (weeks)"}},"y":{"field":"y","type":"quantitative","scale":{"domain":[-6,120],"nice":false,"zero":false},"axis":{"values":[0,25,50,75,100],"title":"Volume (mL)"}},"fill":{"field":"c","type":"nominal","scale":{"domain":["b","r"],"range":["#0000e6","#e0111b"]},"legend":null}}},
 {"data":{"name":"fits"},"transform":[{"filter":"datum.p=='lungs'"}],"mark":{"type":"line","strokeWidth":1,"interpolate":"monotone"},"encoding":{"x":{"field":"x","type":"quantitative"},"y":{"field":"y","type":"quantitative"},"stroke":{"field":"lab","type":"nominal","scale":{"range":["#4a90c8"]},"legend":{"title":null}}}},
 {"data":{"name":"r2"},"transform":[{"filter":"datum.p=='lungs'"}],"mark":{"type":"text","x":0,"y":20,"align":"left","baseline":"middle","fontSize":8,"fill":"#1a1a1a","color":"#1a1a1a"},"encoding":{"text":{"field":"t"}}}]},
{"width":141,"height":89,"title":"Volume Liver","layer":[
 {"data":{"name":"liver"},"mark":{"type":"circle","size":19,"opacity":1,"stroke":"white","strokeWidth":0.4},"encoding":{"x":{"field":"x","type":"quantitative","scale":{"domain":[15.7,41.8],"nice":false,"zero":false},"axis":{"values":[20,25,30,35,40],"title":"GA (weeks)"}},"y":{"field":"y","type":"quantitative","scale":{"domain":[-10,221],"nice":false,"zero":false},"axis":{"values":[0,50,100,150,200],"title":"Volume (mL)"}},"fill":{"field":"c","type":"nominal","scale":{"domain":["b","r"],"range":["#0000e6","#e0111b"]},"legend":null}}},
 {"data":{"name":"fits"},"transform":[{"filter":"datum.p=='liver'"}],"mark":{"type":"line","strokeWidth":1,"interpolate":"monotone"},"encoding":{"x":{"field":"x","type":"quantitative"},"y":{"field":"y","type":"quantitative"},"stroke":{"field":"lab","type":"nominal","scale":{"range":["#4a90c8"]},"legend":{"title":null}}}},
 {"data":{"name":"r2"},"transform":[{"filter":"datum.p=='liver'"}],"mark":{"type":"text","x":0,"y":20,"align":"left","baseline":"middle","fontSize":8,"fill":"#1a1a1a","color":"#1a1a1a"},"encoding":{"text":{"field":"t"}}}]},
{"width":141,"height":89,"title":"Volume Stomach","layer":[
 {"data":{"name":"stomach"},"mark":{"type":"circle","size":19,"opacity":1,"stroke":"white","strokeWidth":0.4},"encoding":{"x":{"field":"x","type":"quantitative","scale":{"domain":[15.8,41.8],"nice":false,"zero":false},"axis":{"values":[20,25,30,35,40],"title":"GA (weeks)"}},"y":{"field":"y","type":"quantitative","scale":{"domain":[-1.2,25.9],"nice":false,"zero":false},"axis":{"values":[0,5,10,15,20,25],"title":"Volume (mL)"}},"fill":{"field":"c","type":"nominal","scale":{"domain":["b","r"],"range":["#0000e6","#e0111b"]},"legend":null}}},
 {"data":{"name":"fits"},"transform":[{"filter":"datum.p=='stomach'"}],"mark":{"type":"line","strokeWidth":1,"interpolate":"monotone"},"encoding":{"x":{"field":"x","type":"quantitative"},"y":{"field":"y","type":"quantitative"},"stroke":{"field":"lab","type":"nominal","scale":{"range":["#4a90c8"]},"legend":{"title":null}}}},
 {"data":{"name":"r2"},"transform":[{"filter":"datum.p=='stomach'"}],"mark":{"type":"text","x":0,"y":20,"align":"left","baseline":"middle","fontSize":8,"fill":"#1a1a1a","color":"#1a1a1a"},"encoding":{"text":{"field":"t"}}}]},
{"width":139,"height":89,"title":"Volume Spleen","layer":[
 {"data":{"name":"spleen"},"mark":{"type":"circle","size":19,"opacity":1,"stroke":"white","strokeWidth":0.4},"encoding":{"x":{"field":"x","type":"quantitative","scale":{"domain":[15.75,41.1],"nice":false,"zero":false},"axis":{"values":[20,25,30,35,40],"title":"GA (weeks)"}},"y":{"field":"y","type":"quantitative","scale":{"domain":[-0.6,11.9],"nice":false,"zero":false},"axis":{"values":[0,2.5,5,7.5,10],"format":".1f","title":"Volume (mL)"}},"fill":{"field":"c","type":"nominal","scale":{"domain":["b","r"],"range":["#0000e6","#e0111b"]},"legend":null}}},
 {"data":{"name":"fits"},"transform":[{"filter":"datum.p=='spleen'"}],"mark":{"type":"line","strokeWidth":1,"interpolate":"monotone"},"encoding":{"x":{"field":"x","type":"quantitative"},"y":{"field":"y","type":"quantitative"},"stroke":{"field":"lab","type":"nominal","scale":{"range":["#4a90c8"]},"legend":{"title":null}}}},
 {"data":{"name":"r2"},"transform":[{"filter":"datum.p=='spleen'"}],"mark":{"type":"text","x":0,"y":20,"align":"left","baseline":"middle","fontSize":8,"fill":"#1a1a1a","color":"#1a1a1a"},"encoding":{"text":{"field":"t"}}}]},
{"width":137,"height":94,"title":"Volume Kidney Pelvis","layer":[
 {"data":{"name":"pelvis"},"mark":{"type":"circle","size":19,"opacity":1,"stroke":"white","strokeWidth":0.4},"encoding":{"x":{"field":"x","type":"quantitative","scale":{"domain":[16.0,41.0],"nice":false,"zero":false},"axis":{"values":[20,25,30,35,40],"title":"GA (weeks)"}},"y":{"field":"y","type":"quantitative","scale":{"domain":[-0.53,2.61],"nice":false,"zero":false},"axis":{"values":[0,1,2],"title":"Volume (mL)"}},"fill":{"field":"c","type":"nominal","scale":{"domain":["b","r"],"range":["#0000e6","#e0111b"]},"legend":null}}},
 {"data":{"name":"fits"},"transform":[{"filter":"datum.p=='pelvis'"}],"mark":{"type":"line","strokeWidth":1,"interpolate":"monotone"},"encoding":{"x":{"field":"x","type":"quantitative"},"y":{"field":"y","type":"quantitative"},"stroke":{"field":"lab","type":"nominal","scale":{"range":["#4a90c8"]},"legend":{"title":null}}}},
 {"data":{"name":"r2"},"transform":[{"filter":"datum.p=='pelvis'"}],"mark":{"type":"text","x":0,"y":21,"align":"left","baseline":"middle","fontSize":8,"fill":"#1a1a1a","color":"#1a1a1a"},"encoding":{"text":{"field":"t"}}}]},
{"width":141,"height":94,"title":"Volume Kidney Parenchyma","layer":[
 {"data":{"name":"parench"},"mark":{"type":"circle","size":19,"opacity":1,"stroke":"white","strokeWidth":0.4},"encoding":{"x":{"field":"x","type":"quantitative","scale":{"domain":[15.7,41.7],"nice":false,"zero":false},"axis":{"values":[20,25,30,35,40],"title":"GA (weeks)"}},"y":{"field":"y","type":"quantitative","scale":{"domain":[-3.3,45.2],"nice":false,"zero":false},"axis":{"values":[0,10,20,30,40],"title":"Volume (mL)"}},"fill":{"field":"c","type":"nominal","scale":{"domain":["b","r"],"range":["#0000e6","#e0111b"]},"legend":null}}},
 {"data":{"name":"fits"},"transform":[{"filter":"datum.p=='parench'"}],"mark":{"type":"line","strokeWidth":1,"interpolate":"monotone"},"encoding":{"x":{"field":"x","type":"quantitative"},"y":{"field":"y","type":"quantitative"},"stroke":{"field":"lab","type":"nominal","scale":{"range":["#4a90c8"]},"legend":{"title":null}}}},
 {"data":{"name":"r2"},"transform":[{"filter":"datum.p=='parench'"}],"mark":{"type":"text","x":0,"y":21,"align":"left","baseline":"middle","fontSize":8,"fill":"#1a1a1a","color":"#1a1a1a"},"encoding":{"text":{"field":"t"}}}]},
{"width":141,"height":94,"title":"Volume Bladder","layer":[
 {"data":{"name":"bladder"},"mark":{"type":"circle","size":19,"opacity":1,"stroke":"white","strokeWidth":0.4},"encoding":{"x":{"field":"x","type":"quantitative","scale":{"domain":[15.9,41.5],"nice":false,"zero":false},"axis":{"values":[20,25,30,35,40],"title":"GA (weeks)"}},"y":{"field":"y","type":"quantitative","scale":{"domain":[-2.4,37.5],"nice":false,"zero":false},"axis":{"values":[0,10,20,30],"title":"Volume (mL)"}},"fill":{"field":"c","type":"nominal","scale":{"domain":["b","r"],"range":["#0000e6","#e0111b"]},"legend":null}}},
 {"data":{"name":"fits"},"transform":[{"filter":"datum.p=='bladder'"}],"mark":{"type":"line","strokeWidth":1,"interpolate":"monotone"},"encoding":{"x":{"field":"x","type":"quantitative"},"y":{"field":"y","type":"quantitative"},"stroke":{"field":"lab","type":"nominal","scale":{"range":["#4a90c8"]},"legend":{"title":null}}}},
 {"data":{"name":"r2"},"transform":[{"filter":"datum.p=='bladder'"}],"mark":{"type":"text","x":0,"y":21,"align":"left","baseline":"middle","fontSize":8,"fill":"#1a1a1a","color":"#1a1a1a"},"encoding":{"text":{"field":"t"}}}]},
{"width":139,"height":94,"title":"Volume Thymus","layer":[
 {"data":{"name":"thymus"},"mark":{"type":"circle","size":19,"opacity":1,"stroke":"white","strokeWidth":0.4},"encoding":{"x":{"field":"x","type":"quantitative","scale":{"domain":[15.75,41.2],"nice":false,"zero":false},"axis":{"values":[20,25,30,35,40],"title":"GA (weeks)"}},"y":{"field":"y","type":"quantitative","scale":{"domain":[-0.95,10.7],"nice":false,"zero":false},"axis":{"values":[0,2,4,6,8,10],"title":"Volume (mL)"}},"fill":{"field":"c","type":"nominal","scale":{"domain":["b","r"],"range":["#0000e6","#e0111b"]},"legend":null}}},
 {"data":{"name":"fits"},"transform":[{"filter":"datum.p=='thymus'"}],"mark":{"type":"line","strokeWidth":1,"interpolate":"monotone"},"encoding":{"x":{"field":"x","type":"quantitative"},"y":{"field":"y","type":"quantitative"},"stroke":{"field":"lab","type":"nominal","scale":{"range":["#4a90c8"]},"legend":{"title":null}}}},
 {"data":{"name":"r2"},"transform":[{"filter":"datum.p=='thymus'"}],"mark":{"type":"text","x":0,"y":21,"align":"left","baseline":"middle","fontSize":8,"fill":"#1a1a1a","color":"#1a1a1a"},"encoding":{"text":{"field":"t"}}}]},
{"width":137,"height":93,"title":"Volume Gallbladder","layer":[
 {"data":{"name":"gall"},"mark":{"type":"circle","size":19,"opacity":1,"stroke":"white","strokeWidth":0.4},"encoding":{"x":{"field":"x","type":"quantitative","scale":{"domain":[16.0,41.0],"nice":false,"zero":false},"axis":{"values":[20,25,30,35,40],"title":"GA (weeks)"}},"y":{"field":"y","type":"quantitative","scale":{"domain":[-0.01,1.285],"nice":false,"zero":false},"axis":{"values":[0,0.25,0.5,0.75,1,1.25],"format":".2f","title":"Volume (mL)"}},"fill":{"field":"c","type":"nominal","scale":{"domain":["b","r"],"range":["#0000e6","#e0111b"]},"legend":null}}},
 {"data":{"name":"fits"},"transform":[{"filter":"datum.p=='gall'"}],"mark":{"type":"line","strokeWidth":1,"interpolate":"monotone"},"encoding":{"x":{"field":"x","type":"quantitative"},"y":{"field":"y","type":"quantitative"},"stroke":{"field":"lab","type":"nominal","scale":{"range":["#4a90c8"]},"legend":{"title":null}}}},
 {"data":{"name":"r2"},"transform":[{"filter":"datum.p=='gall'"}],"mark":{"type":"text","x":0,"y":21,"align":"left","baseline":"middle","fontSize":8,"fill":"#1a1a1a","color":"#1a1a1a"},"encoding":{"text":{"field":"t"}}}]},
{"width":141,"height":93,"title":"Volume Adrenal Glands","layer":[
 {"data":{"name":"adrenal"},"mark":{"type":"circle","size":19,"opacity":1,"stroke":"white","strokeWidth":0.4},"encoding":{"x":{"field":"x","type":"quantitative","scale":{"domain":[15.7,41.6],"nice":false,"zero":false},"axis":{"values":[20,25,30,35,40],"title":"GA (weeks)"}},"y":{"field":"y","type":"quantitative","scale":{"domain":[-0.036,0.663],"nice":false,"zero":false},"axis":{"values":[0,0.2,0.4,0.6],"format":".1f","title":"Volume (mL)"}},"fill":{"field":"c","type":"nominal","scale":{"domain":["b","r"],"range":["#0000e6","#e0111b"]},"legend":null}}},
 {"data":{"name":"fits"},"transform":[{"filter":"datum.p=='adrenal'"}],"mark":{"type":"line","strokeWidth":1,"interpolate":"monotone"},"encoding":{"x":{"field":"x","type":"quantitative"},"y":{"field":"y","type":"quantitative"},"stroke":{"field":"lab","type":"nominal","scale":{"range":["#4a90c8"]},"legend":{"title":null}}}},
 {"data":{"name":"r2"},"transform":[{"filter":"datum.p=='adrenal'"}],"mark":{"type":"text","x":0,"y":21,"align":"left","baseline":"middle","fontSize":8,"fill":"#1a1a1a","color":"#1a1a1a"},"encoding":{"text":{"field":"t"}}}]}
],
"config":{
 "font":"Liberation Serif",
 "view":{"stroke":"#8c8c8c","strokeWidth":0.8},
 "axis":{"grid":false,"domain":false,"labelFont":"Liberation Serif","labelFontSize":8,"labelColor":"#1a1a1a","titleFont":"Liberation Serif","titleFontSize":9,"titleFontWeight":"normal","titleColor":"#1a1a1a","tickSize":3.5,"tickColor":"#333333","tickWidth":0.8,"labelPadding":1.5,"titlePadding":2},
 "title":{"font":"Liberation Serif","fontSize":9.5,"fontWeight":"normal","color":"#1a1a1a","offset":1},
 "legend":{"orient":"top-left","offset":2,"fillColor":"white","strokeColor":"#cccccc","cornerRadius":2,"padding":2,"symbolType":"M-1,0H3","symbolSize":64,"symbolStrokeWidth":1.2,"labelOffset":11,"labelFont":"Liberation Serif","labelFontSize":8,"labelColor":"#1a1a1a"}
}
}
